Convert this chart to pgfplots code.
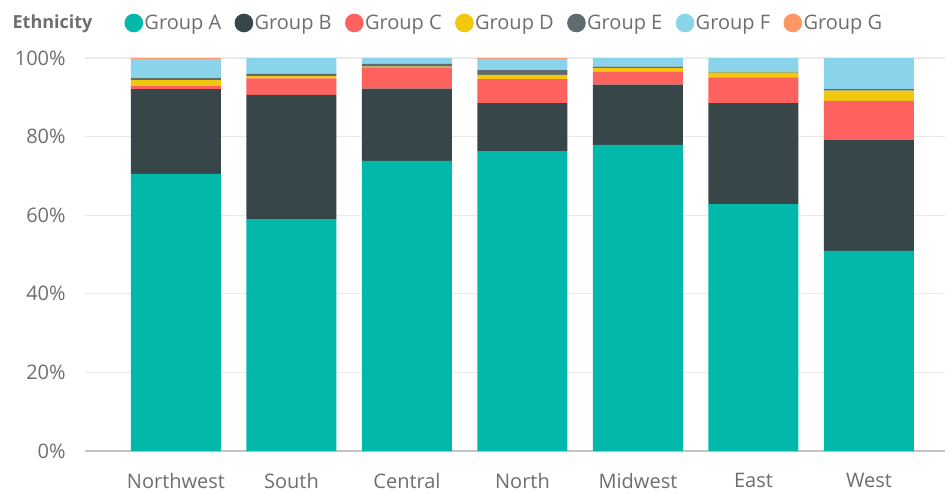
\documentclass[border=0pt]{standalone}
\usepackage{pgfplots}
\pgfplotsset{compat=1.18}
\usepackage{fontspec}
\setmainfont{Open Sans}
\definecolor{cA}{HTML}{01B8AA}
\definecolor{cB}{HTML}{374649}
\definecolor{cC}{HTML}{FD625E}
\definecolor{cD}{HTML}{F2C80F}
\definecolor{cE}{HTML}{5F6B6D}
\definecolor{cF}{HTML}{8AD4EB}
\definecolor{cG}{HTML}{FE9666}
\definecolor{txt}{HTML}{6E6E6E}
\definecolor{gridc}{HTML}{EAEAEA}
\definecolor{axc}{HTML}{C4C4C4}
\begin{document}
\begin{tikzpicture}
\begin{axis}[
  scale only axis,
  width=645pt, height=294.75pt,
  ybar stacked, bar shift=0pt, bar width=0.779,
  xmin=-0.788, xmax=6.658,
  ymin=0, ymax=100,
  xtick={0,1,2,3,4,5,6},
  xticklabels={Northwest,South,Central,North,Midwest,East,West},
  ytick={0,20,40,60,80,100},
  yticklabels={0\%,20\%,40\%,60\%,80\%,100\%},
  major tick length=0pt,
  axis x line*=bottom,
  axis y line*=left,
  y axis line style={draw=none},
  x axis line style={draw=axc, line width=1pt, -},
  ymajorgrids, grid style={gridc, line width=0.8pt},
  tick label style={font=\fontsize{15pt}{17pt}\selectfont, text=txt},
  yticklabel style={xshift=-11pt},
  xticklabel style={yshift=-13.5pt},
  /pgf/number format/assume math mode=true,
  clip=false,
  every axis plot/.append style={draw=none},
  legend columns=-1,
  legend style={draw=none, fill=none, at={(rel axis cs:-0.0849,1.0891)}, anchor=west,
    inner sep=0pt, outer sep=0pt,
    font=\fontsize{15pt}{17pt}\selectfont, text=txt,
    nodes={inner sep=1pt},
    /tikz/every even column/.append style={column sep=9pt}},
  legend image code/.code={\fill[#1, draw=none] (7pt,0pt) circle (7pt);},
]
\addlegendimage{empty legend}
\addlegendentry{\hspace*{-0.5pt}\textbf{\fontsize{13.5pt}{15pt}\selectfont Ethnicity}\hspace*{14pt}}
\addplot[fill=cA] coordinates {(0,70.5) (1,59.0) (2,73.8) (3,76.3) (4,77.9) (5,62.8) (6,50.9)};
\addlegendentry{Group A}
\addplot[fill=cB] coordinates {(0,21.6) (1,31.6) (2,18.4) (3,12.2) (4,15.3) (5,25.7) (6,28.2)};
\addlegendentry{Group B}
\addplot[fill=cC] coordinates {(0,0.9) (1,4.2) (2,5.4) (3,6.1) (4,3.3) (5,6.6) (6,10.0)};
\addlegendentry{Group C}
\addplot[fill=cD] coordinates {(0,1.4) (1,0.6) (2,0.2) (3,1.1) (4,0.9) (5,1.2) (6,2.6)};
\addlegendentry{Group D}
\addplot[fill=cE] coordinates {(0,0.5) (1,0.6) (2,0.7) (3,1.2) (4,0.4) (5,0.1) (6,0.4)};
\addlegendentry{Group E}
\addplot[fill=cF] coordinates {(0,4.8) (1,4.0) (2,1.5) (3,2.9) (4,2.2) (5,3.6) (6,7.9)};
\addlegendentry{Group F}
\addplot[fill=cG] coordinates {(0,0.3) (1,0) (2,0) (3,0.2) (4,0) (5,0) (6,0)};
\addlegendentry{Group G}
\path (rel axis cs:-0.0988,-0.1018) (rel axis cs:1.0047,1.1476);
\end{axis}
\end{tikzpicture}
\end{document}
